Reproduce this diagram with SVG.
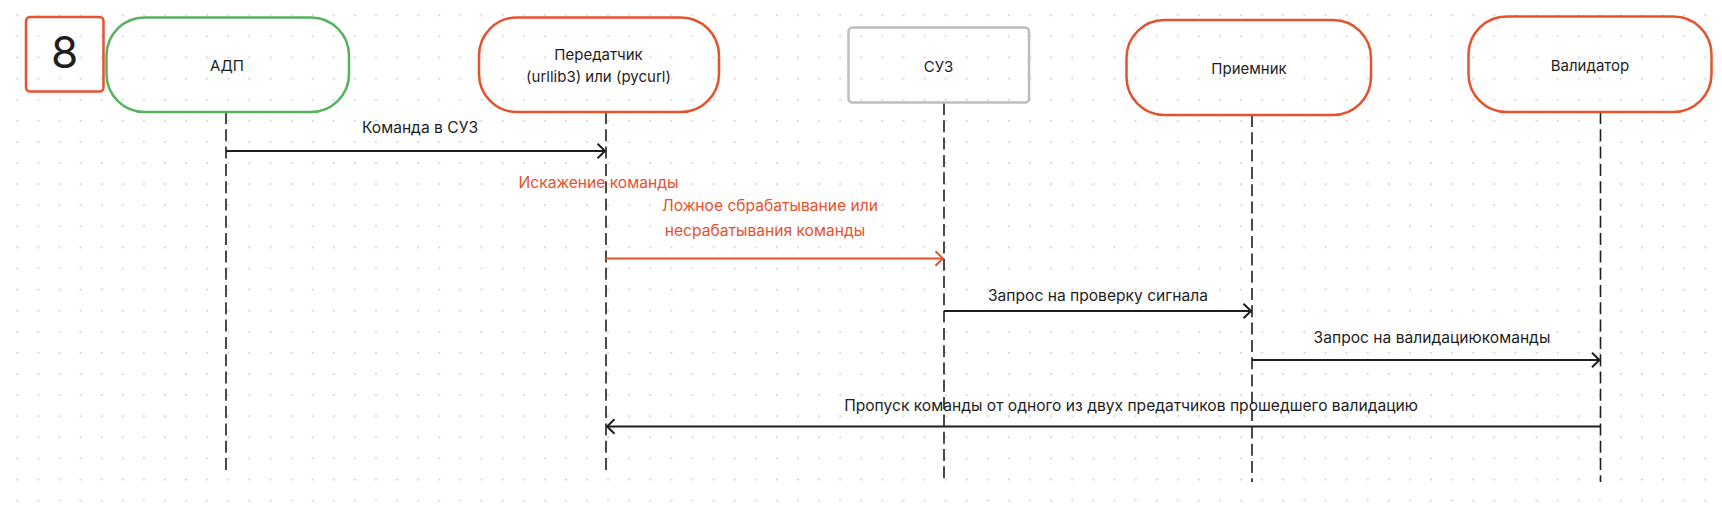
<svg xmlns="http://www.w3.org/2000/svg" width="1722" height="510" viewBox="0 0 1722 510">
  <style>
    .lbl { font-family: Inter, "Noto Sans", "Liberation Sans", sans-serif; font-size: 15px; fill: #1e1e1e; text-anchor: middle; }
    .mlbl { font-size: 15.6px; }
    .red { fill: #e5522e; }
    .pill { fill: none; stroke: #e5522e; stroke-width: 2.5; }
    .life { fill: none; stroke: #1e1e1e; stroke-width: 1.6; stroke-dasharray: 12 5.3; }
    .msg { fill: none; stroke: #1e1e1e; stroke-width: 2; marker-end: url(#arrK); }
    .msgR { fill: none; stroke: #e5522e; stroke-width: 2; marker-end: url(#arrR); }
  </style>
  <defs>
    <pattern id="dots" x="6.75" y="4.75" width="21.1" height="21.1" patternUnits="userSpaceOnUse">
      <circle cx="10.55" cy="10.55" r="1.05" fill="#cfcfcf"/>
    </pattern>
    <marker id="arrK" viewBox="-10 -10 12 20" refX="0" refY="0" markerWidth="12" markerHeight="20" markerUnits="userSpaceOnUse" orient="auto">
      <path d="M-7.5,-7.2 L0,0 L-7.5,7.2" fill="none" stroke="#1e1e1e" stroke-width="2"/>
    </marker>
    <marker id="arrR" viewBox="-10 -10 12 20" refX="0" refY="0" markerWidth="12" markerHeight="20" markerUnits="userSpaceOnUse" orient="auto">
      <path d="M-7.5,-7.2 L0,0 L-7.5,7.2" fill="none" stroke="#e5522e" stroke-width="2"/>
    </marker>
  </defs>
  <rect width="1722" height="510" fill="#ffffff"/>
  <rect width="1722" height="510" fill="url(#dots)"/>

  <g id="lifelines">
    <line class="life" x1="226" y1="112" x2="226" y2="472"/>
    <line class="life" x1="606" y1="112" x2="606" y2="472"/>
    <line class="life" x1="944" y1="103" x2="944" y2="482"/>
    <line class="life" x1="1252" y1="115" x2="1252" y2="482"/>
    <line class="life" x1="1600.5" y1="112" x2="1600.5" y2="482"/>
  </g>

  <g id="badge-8">
    <rect x="26" y="17" width="77.5" height="74.5" rx="4" fill="none" stroke="#e5522e" stroke-width="2.5"/>
    <text x="64.5" y="68" font-family="Inter, 'Noto Sans', 'Liberation Sans', sans-serif" font-size="44" fill="#1e1e1e" text-anchor="middle">8</text>
  </g>

  <g id="node-adp">
    <rect x="106.5" y="17.5" width="242.5" height="94.5" rx="38" fill="none" stroke="#55b35f" stroke-width="2.5"/>
    <text class="lbl" x="227" y="70.5">АДП</text>
  </g>

  <g id="node-transmitter">
    <rect class="pill" x="479" y="17.5" width="240" height="94.5" rx="38"/>
    <text class="lbl" x="598.5" y="60">Передатчик</text>
    <text class="lbl" x="598.5" y="81.5">(urllib3) или (pycurl)</text>
  </g>

  <g id="node-suz">
    <rect x="848.5" y="27.5" width="180.5" height="75" rx="4" fill="none" stroke="#bdbdbd" stroke-width="2.5"/>
    <text class="lbl" x="938.5" y="71.5">СУЗ</text>
  </g>

  <g id="node-receiver">
    <rect class="pill" x="1126.5" y="20" width="244.5" height="95" rx="38"/>
    <text class="lbl" x="1249" y="74">Приемник</text>
  </g>

  <g id="node-validator">
    <rect class="pill" x="1468.5" y="16.5" width="243" height="95.5" rx="38"/>
    <text class="lbl" x="1590" y="70.5">Валидатор</text>
  </g>

  <g id="connectors">
    <line class="msg" x1="226" y1="151" x2="605" y2="151"/>
    <line class="msgR" x1="606" y1="258.5" x2="943" y2="258.5"/>
    <line class="msg" x1="944" y1="311" x2="1251" y2="311"/>
    <line class="msg" x1="1252" y1="360" x2="1599.5" y2="360"/>
    <line class="msg" x1="1600.5" y1="426.5" x2="607" y2="426.5"/>
  </g>

  <g id="labels">
    <text class="lbl mlbl" x="420" y="133.4">Команда в СУЗ</text>
    <text class="lbl mlbl red" x="598.5" y="188.3">Искажение команды</text>
    <text class="lbl mlbl red" x="770" y="211">Ложное сбрабатывание или</text>
    <text class="lbl mlbl red" x="765" y="236">несрабатывания команды</text>
    <text class="lbl mlbl" x="1098" y="300.7">Запрос на проверку сигнала</text>
    <text class="lbl mlbl" x="1432" y="343.4">Запрос на валидациюкоманды</text>
    <text class="lbl mlbl" x="1131" y="410.7">Пропуск команды от одного из двух предатчиков прошедшего валидацию</text>
  </g>
</svg>
